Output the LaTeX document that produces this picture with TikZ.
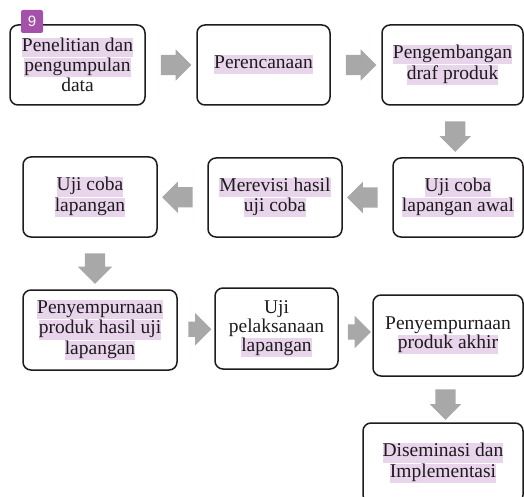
\documentclass[tikz,border=0pt]{standalone}
\usepackage{fontspec}
\setmainfont{Liberation Serif}
\newfontfamily\tagfont{Liberation Sans}
\usetikzlibrary{calc, shapes.arrows}
\definecolor{hlcol}{HTML}{E9D5EB}
\definecolor{arrgray}{HTML}{A8A8A8}
\definecolor{tagcol}{HTML}{A452A9}
\definecolor{ink}{HTML}{1E1A1E}
\newcommand{\hlite}[1]{{\setlength{\fboxsep}{0pt}\colorbox{hlcol}{\strut #1}}}

\begin{document}
\begin{tikzpicture}[x=1pt,y=-1pt,
  box/.style={draw=ink, line width=1.5pt, rounded corners=8pt, minimum height=80pt,
    align=center, inner sep=0pt, text=ink, font=\fontsize{19.5}{19}\selectfont},
  arr/.style={single arrow, fill=arrgray, inner sep=10pt, single arrow head extend=5.5pt,
    minimum height=27pt},
  small arr/.style={arr, inner sep=7.5pt, single arrow head extend=8.5pt, minimum height=20pt}]

\clip (0,0) rectangle (524,497);

% row 1
\node[box, minimum width=135pt] (b1) at (77.5,65) {\hlite{Penelitian dan}\\\hlite{pengumpulan}\\data};
\node[box, minimum width=133pt] (b2) at (263.5,65) {\hlite{Perencanaan}};
\node[box, minimum width=141pt] (b3) at (452.5,65) {\hlite{Pengembangan}\\\hlite{draf produk}};

% row 2
\node[box, minimum width=130pt, minimum height=79pt] (b4) at (458,197.5) {\hlite{Uji coba}\\\hlite{lapangan awal}};
\node[box, minimum width=134pt, minimum height=79pt] (b5) at (275,197.5) {\hlite{Merevisi hasil}\\\hlite{uji coba}};
\node[box, minimum width=134pt] (b6) at (90,197) {\hlite{Uji coba}\\\hlite{lapangan}};

% row 3
\node[box, minimum width=154pt] (b7) at (100,330) {\hlite{Penyempurnaan}\\\hlite{produk hasil uji}\\\hlite{lapangan}};
\node[box, minimum width=123pt, minimum height=81pt] (b8) at (276.5,328.5) {Uji\\pelaksanaan\\\hlite{lapangan}};
\node[box, minimum width=150pt, minimum height=81pt] (b9) at (448,335.5) {Penyempurnaan\\\hlite{produk akhir}};
\node[box, minimum width=160pt] (b10) at (443,463) {\hlite{Diseminasi dan}\\\hlite{Implementasi}};

% arrows
\node[arr, minimum height=26pt] (a12) at ($(b1.east)!.5!(b2.west)$) {};
\node[arr, minimum height=29pt] (a23) at ($(b2.east)!.5!(b3.west)$) {};
\node[arr, shape border rotate=270, minimum height=29pt] (a34) at ($(b3.south)!.5!(b4.north)$) {};
\node[arr, shape border rotate=180] (a45) at ($(b4.west)!.5!(b5.east)$) {};
\node[arr, shape border rotate=180] (a56) at ($(b5.west)!.5!(b6.east)$) {};
\node[arr, shape border rotate=270, minimum height=25pt, single arrow head extend=7pt] (a67) at ($(b6.south)!.5!(b7.north)$) {};
\node[small arr] (a78) at ($(b7.east)!.5!(b8.west)$) {};
\node[small arr] (a89) at ($(b8.east)!.5!(b9.west)$) {};
\node[arr, shape border rotate=270, minimum height=25pt] (a910) at ($(b9.south)!.5!(b10.north)$) {};

\node[fill=tagcol, text=white, rounded corners=2pt, minimum width=22pt, minimum height=23pt,
  inner sep=0pt, font=\tagfont\fontsize{15}{15}\selectfont] (tag) at (32,21.5) {9};

\end{tikzpicture}
\end{document}
